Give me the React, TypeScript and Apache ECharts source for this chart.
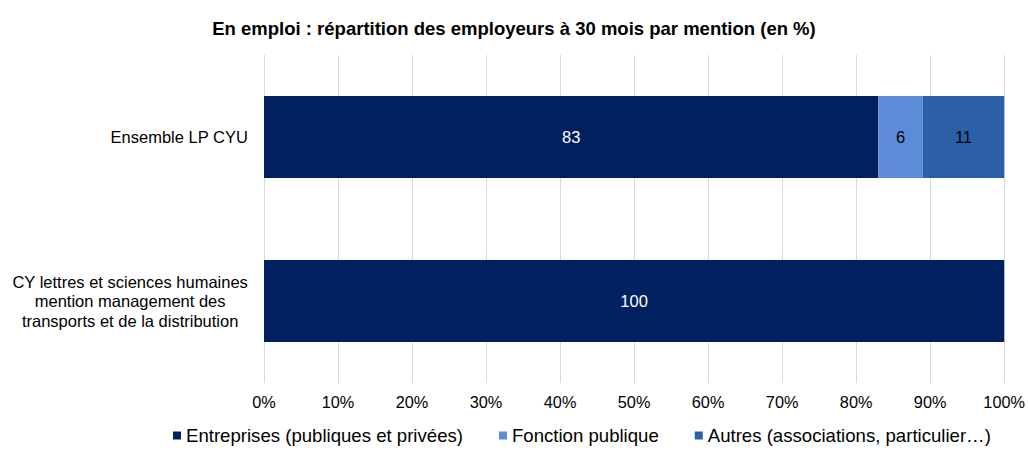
import React, { useEffect, useRef } from "react";
import * as echarts from "echarts";

const categories = [
  "Ensemble LP CYU",
  "CY lettres et sciences humaines\nmention management des\ntransports et de la distribution",
];
const entreprises = [83, 100];
const fonctionPublique = [6, null];
const autres = [11, null];
const seriesNames = [
  "Entreprises (publiques et privées)",
  "Fonction publique",
  "Autres (associations, particulier…)",
];
const xTicks = [0, 10, 20, 30, 40, 50, 60, 70, 80, 90, 100];

export default function App() {
  const ref = useRef<HTMLDivElement>(null);
  useEffect(() => {
    const chart = echarts.init(ref.current!, null, { renderer: "svg" });
    const font = "Liberation Sans, Arial, sans-serif";
    const mk = (name: string, data: any[], color: string, labelColor: string) => ({
      name,
      type: "bar",
      stack: "total",
      data,
      barWidth: 82,
      itemStyle: { color },
      label: {
        show: true,
        position: "inside",
        color: labelColor,
        fontSize: 16.5,
        fontFamily: font,
      },
    });
    chart.setOption({
      animation: false,
      title: {
        text: "En emploi : répartition des employeurs à 30 mois par mention (en %)",
        left: "center",
        top: 14,
        textStyle: { fontSize: 18.5, fontWeight: "bold", color: "#000", fontFamily: font },
      },
      legend: {
        bottom: 3,
        left: 168,
        itemWidth: 8,
        itemHeight: 8,
        itemGap: 36,
        icon: "rect",
        textStyle: { fontSize: 18.6, color: "#000", fontFamily: font },
        data: seriesNames,
      },
      grid: { left: 264, right: 22, top: 55, bottom: 70 },
      xAxis: {
        type: "value",
        min: 0,
        max: 100,
        interval: 10,
        axisLine: { show: false },
        axisTick: { show: false },
        splitLine: { lineStyle: { color: "#d9d9d9" } },
        axisLabel: {
          formatter: (v: number) => (xTicks.includes(v) ? v + "%" : ""),
          fontSize: 16.3,
          color: "#000",
          fontFamily: font,
          margin: 11,
        },
      },
      yAxis: {
        type: "category",
        inverse: true,
        data: categories,
        axisLine: { show: false },
        axisTick: { show: false },
        axisLabel: {
          fontSize: 16.5,
          color: "#000",
          fontFamily: font,
          margin: 16,
          lineHeight: 19.5,
          formatter: (v: string) =>
            v.split("\n").map((l) => "{c|" + l + "}").join("\n"),
          rich: {
            c: { align: "center", fontSize: 16.5, color: "#000", fontFamily: font, lineHeight: 19.5 },
          },
        },
      },
      series: [
        mk(seriesNames[0], entreprises, "#002060", "#fff"),
        mk(seriesNames[1], fonctionPublique, "#5b8bd9", "#000"),
        mk(seriesNames[2], autres, "#2b5fa8", "#000"),
      ],
    });
    return () => chart.dispose();
  }, []);
  return (
    <div
      ref={ref}
      style={{ position: "absolute", left: 0, top: 0, width: 1028, height: 453 }}
    />
  );
}
